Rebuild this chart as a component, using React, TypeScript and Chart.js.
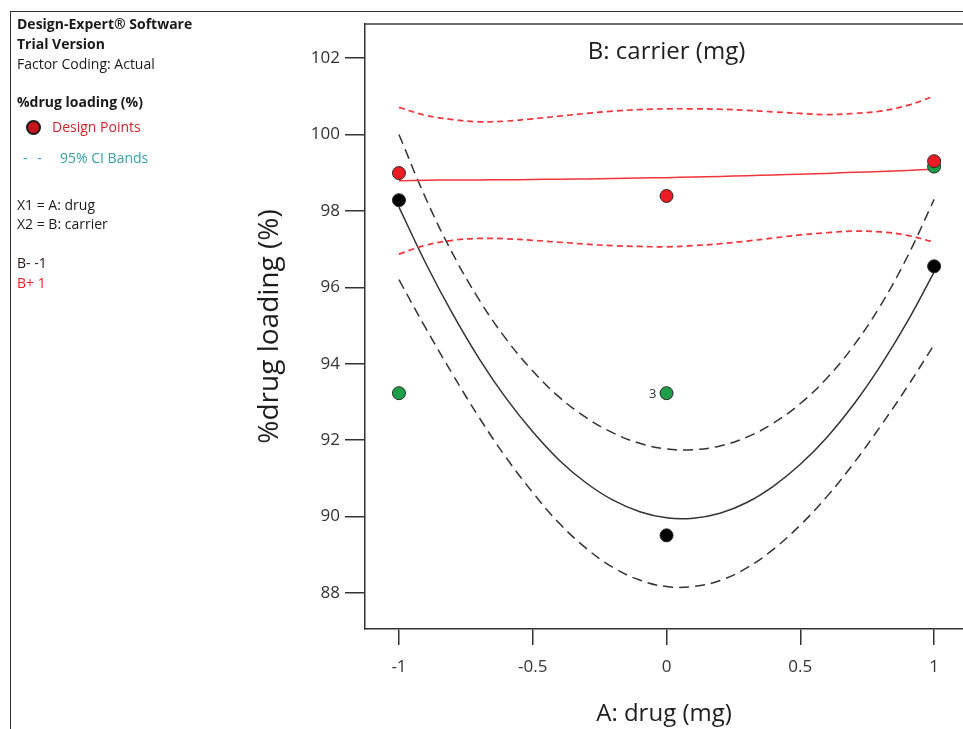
import React, { useEffect, useRef } from "react";
import { Chart, registerables } from "chart.js";

Chart.register(...registerables);

// ---------- data ----------
const gridX = [-1, -0.9, -0.8, -0.7, -0.6, -0.5, -0.4, -0.3, -0.2, -0.1, 0, 0.1, 0.2, 0.3, 0.4, 0.5, 0.6, 0.7, 0.8, 0.9, 1];

// B- (carrier = -1) prediction and 95% CI bands
const bMinusFit = [98.1, 96.63, 95.31, 94.13, 93.1, 92.22, 91.47, 90.88, 90.43, 90.13, 89.97, 89.96, 90.09, 90.37, 90.8, 91.37, 92.08, 92.94, 93.95, 95.1, 96.4];
const bMinusUpper = [100.0, 98.33, 96.89, 95.67, 94.65, 93.81, 93.12, 92.59, 92.19, 91.92, 91.77, 91.75, 91.85, 92.08, 92.45, 92.96, 93.63, 94.48, 95.53, 96.8, 98.3];
const bMinusLower = [96.2, 94.93, 93.73, 92.59, 91.55, 90.63, 89.82, 89.17, 88.67, 88.34, 88.17, 88.17, 88.33, 88.66, 89.15, 89.78, 90.53, 91.4, 92.37, 93.4, 94.5];

// B+ (carrier = +1) prediction and 95% CI bands
const bPlusFit = [98.79, 98.8, 98.81, 98.81, 98.815, 98.82, 98.83, 98.835, 98.845, 98.86, 98.87, 98.885, 98.9, 98.92, 98.94, 98.96, 98.98, 99.01, 99.03, 99.06, 99.09];
const bPlusUpper = [100.71, 100.5, 100.39, 100.33, 100.35, 100.41, 100.48, 100.55, 100.61, 100.65, 100.67, 100.67, 100.66, 100.63, 100.59, 100.55, 100.52, 100.55, 100.61, 100.76, 101.0];
const bPlusLower = [96.87, 97.1, 97.23, 97.28, 97.27, 97.23, 97.18, 97.13, 97.09, 97.07, 97.06, 97.09, 97.14, 97.21, 97.29, 97.37, 97.43, 97.47, 97.45, 97.36, 97.18];

// design points
const designX = [-1, 0, 1];
const bMinusPoints = [98.28, 89.51, 96.55];
const bPlusPoints = [98.99, 98.39, 99.3];
const otherPoints = [93.23, 93.23, 99.16];
const replicateLabel = "3";

const yTicks = [88, 90, 92, 94, 96, 98, 100, 102];
const xTicks = [-1, -0.5, 0, 0.5, 1];

const plotTitle = "B: carrier (mg)";
const xTitle = "A: drug (mg)";
const yTitle = "%drug loading (%)";

const FONT = '"Open Sans", "Noto Sans", sans-serif';

const toXY = (xs: number[], ys: number[]) => xs.map((x, i) => ({ x, y: ys[i] }));

const overlayPlugin = {
  id: "overlay",
  afterDraw(chart: any) {
    const { ctx, chartArea } = chart;
    const xs = chart.scales.x;
    const ys = chart.scales.y;
    ctx.save();
    ctx.strokeStyle = "#3a3a3a";
    ctx.lineWidth = 1.5;
    ctx.beginPath();
    ctx.moveTo(chartArea.left, chartArea.top);
    ctx.lineTo(chartArea.right, chartArea.top);
    ctx.stroke();

    ctx.fillStyle = "#1e1e1e";
    ctx.font = `24px ${FONT}`;
    ctx.textAlign = "center";
    ctx.textBaseline = "middle";
    ctx.fillText(plotTitle, xs.getPixelForValue(0), chartArea.top + 28);

    ctx.font = `13px ${FONT}`;
    ctx.fillStyle = "#333";
    ctx.textAlign = "right";
    ctx.fillText(replicateLabel, xs.getPixelForValue(0) - 10, ys.getPixelForValue(otherPoints[1]) + 1);
    ctx.restore();
  },
};

function ChartCanvas() {
  const ref = useRef<HTMLCanvasElement | null>(null);
  useEffect(() => {
    if (!ref.current) return;
    const pointStyle = (color: string) => ({
      showLine: false,
      pointRadius: 6.5,
      pointHoverRadius: 6.5,
      pointBackgroundColor: color,
      pointBorderColor: "#2a2a2a",
      pointBorderWidth: 1,
      backgroundColor: color,
      borderColor: "#2a2a2a",
    });
    const lineStyle = (color: string, dash: number[], width = 1.5) => ({
      showLine: true,
      pointRadius: 0,
      pointHoverRadius: 0,
      borderColor: color,
      borderWidth: width,
      borderDash: dash,
      tension: 0.4,
      fill: false,
    });
    const chart = new Chart(ref.current, {
      type: "scatter",
      data: {
        datasets: [
          { label: "B+ points", data: toXY(designX, bPlusPoints), ...pointStyle("#ed1c24") },
          { label: "Other points", data: toXY(designX, otherPoints), ...pointStyle("#1e9e48") },
          { label: "B- points", data: toXY(designX, bMinusPoints), ...pointStyle("#000000") },
          { label: "B+ fit", data: toXY(gridX, bPlusFit), ...lineStyle("#f0353b", [], 1.5) },
          { label: "B+ upper", data: toXY(gridX, bPlusUpper), ...lineStyle("#f0353b", [6, 4], 1.7) },
          { label: "B+ lower", data: toXY(gridX, bPlusLower), ...lineStyle("#f0353b", [6, 4], 1.7) },
          { label: "B- fit", data: toXY(gridX, bMinusFit), ...lineStyle("#333333", [], 1.5) },
          { label: "B- upper", data: toXY(gridX, bMinusUpper), ...lineStyle("#333333", [10, 6]) },
          { label: "B- lower", data: toXY(gridX, bMinusLower), ...lineStyle("#333333", [10, 6]) },
        ] as any,
      },
      options: {
        animation: false,
        responsive: false,
        events: [],
        layout: { autoPadding: false, padding: { top: 24, left: 255, right: 0, bottom: 0 } },
        plugins: { legend: { display: false }, tooltip: { enabled: false }, title: { display: false } },
        scales: {
          x: {
            type: "linear",
            min: -1.127,
            max: 1.108,
            afterBuildTicks: (s: any) => {
              s.ticks = xTicks.map((v) => ({ value: v }));
            },
            afterFit: (s: any) => {
              s.height = 100;
              s.paddingLeft = 0;
              s.paddingRight = 0;
            },
            grid: { drawOnChartArea: false, drawTicks: true, tickLength: 16, color: "#333", lineWidth: 1.5 },
            border: { display: true, color: "#333", width: 1.5 },
            ticks: { color: "#333", font: { size: 17, family: FONT }, padding: 12, callback: (v: any) => String(v) },
            title: { display: true, text: xTitle, color: "#1e1e1e", font: { size: 24, family: FONT }, padding: { top: 0, bottom: 0 } },
          },
          y: {
            type: "linear",
            min: 87.06,
            max: 102.89,
            afterBuildTicks: (s: any) => {
              s.ticks = yTicks.map((v) => ({ value: v }));
            },
            afterFit: (s: any) => {
              s.width = 110;
              s.paddingTop = 0;
              s.paddingBottom = 0;
            },
            grid: { drawOnChartArea: false, drawTicks: true, tickLength: 20, color: "#333", lineWidth: 1.5 },
            border: { display: true, color: "#333", width: 1.5 },
            ticks: { color: "#333", font: { size: 17, family: FONT }, padding: 5, callback: (v: any) => String(v) },
            title: { display: true, text: yTitle, color: "#1e1e1e", font: { size: 28, family: FONT, lineHeight: 1.1 }, padding: { top: 0, bottom: 0 } },
          },
        },
      } as any,
      plugins: [overlayPlugin],
    });
    return () => chart.destroy();
  }, []);
  return <canvas ref={ref} width={963} height={729} style={{ position: "absolute", left: 0, top: 0, width: 963, height: 729 }} />;
}

const panelLines: { text: string; top: number; bold?: boolean; color?: string; left?: number }[] = [
  { text: "Design-Expert® Software", top: 14, bold: true },
  { text: "Trial Version", top: 34, bold: true },
  { text: "Factor Coding: Actual", top: 54 },
  { text: "%drug loading (%)", top: 92, bold: true },
  { text: "X1 = A: drug", top: 195 },
  { text: "X2 = B: carrier", top: 214 },
  { text: "B- -1", top: 253, color: "#2a1414" },
  { text: "B+ 1", top: 273, color: "#ed1c24" },
];

export default function App() {
  return (
    <div style={{ position: "absolute", left: 0, top: 0, width: 963, height: 729, overflow: "hidden", background: "#fff" }}>
      <div style={{ position: "absolute", left: 10, top: 11, width: 953, height: 718, borderTop: "1.5px solid #333", borderLeft: "1.5px solid #333" }} />
      <ChartCanvas />
      <div style={{ position: "absolute", left: 0, top: 0, fontFamily: FONT, fontSize: 14, lineHeight: "20px", color: "#1a1a1a" }}>
        {panelLines.map((l, i) => (
          <div key={i} style={{ position: "absolute", left: l.left ?? 17, top: l.top, whiteSpace: "nowrap", fontWeight: l.bold ? 700 : 400, color: l.color ?? "#1a1a1a" }}>
            {l.text}
          </div>
        ))}
        <div style={{ position: "absolute", left: 26, top: 120, width: 11, height: 11, borderRadius: "50%", background: "#c4161c", border: "2px solid #1a1a1a" }} />
        <div style={{ position: "absolute", left: 52, top: 117, whiteSpace: "nowrap", color: "#d2232a" }}>Design Points</div>
        <div style={{ position: "absolute", left: 23, top: 148, whiteSpace: "nowrap", color: "#36a0a8", letterSpacing: 3 }}>- -</div>
        <div style={{ position: "absolute", left: 60, top: 148, whiteSpace: "nowrap", color: "#36a0a8" }}>95% CI Bands</div>
      </div>
    </div>
  );
}
